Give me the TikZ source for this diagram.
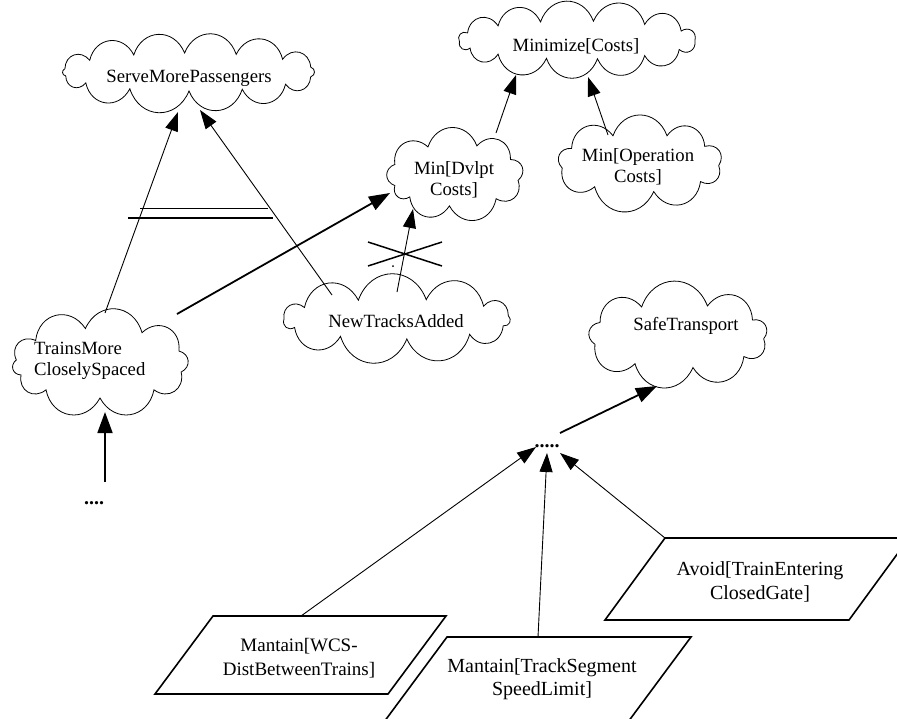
\documentclass[tikz,border=0pt]{standalone}
\usepackage{fontspec}
\setmainfont{Liberation Serif}
\usetikzlibrary{arrows.meta,calc}
\newcommand\drawcloud[6]{%
  \draw[cloudline] ($(#1)+({#2*cos(#4)},{#3*sin(#4)+#6})$)
    \foreach \a in {#5} { to[out=70,in=110,relative,looseness=1.4] ($(#1)+({#2*cos(\a)},{#3*sin(\a)+#6})$) } -- cycle;}
\begin{document}
\begin{tikzpicture}[x=1pt,y=-1pt,
  cloudline/.style={line width=0.8pt,line join=miter},
  anchorbox/.style={inner sep=0pt},
  lbl/.style={font=\fontsize{18.7pt}{21pt}\selectfont,align=center,inner sep=0pt},
  plbl/.style={font=\fontsize{20pt}{23.5pt}\selectfont,align=center,inner sep=0pt},
  dotlbl/.style={font=\fontsize{20pt}{22pt}\selectfont\bfseries,inner sep=0pt},
  para/.style={draw,line width=1.6pt,line join=miter},
  thinarr/.style={line width=0.9pt,-{Triangle[length=19pt,width=13pt]}},
  thickarr/.style={line width=1.8pt,-{Triangle[length=21pt,width=15pt]}},
]
\useasboundingbox (0,0) rectangle (897,718);
\clip (0,0) rectangle (897,718);

% cloud centres
\node[anchorbox] (sm) at (189,77) {};
\node[anchorbox] (mc) at (577,45) {};
\node[anchorbox] (dv) at (455,175) {};
\node[anchorbox] (op) at (640,163) {};
\node[anchorbox] (tm) at (100,363) {};
\node[anchorbox] (nt) at (397,318) {};
\node[anchorbox] (st) at (678,336) {};

% clouds
\drawcloud{sm}{126}{19}{190}{218,244,268,292,318,345,375,400,425,450,478,505,528,550}{-5}
\drawcloud{mc}{118}{19}{175}{202,228,252,278,305,332,362,390,415,440,465,492,515,535}{-5}
\drawcloud{dv}{64}{31}{160}{200,245,290,330,370,410,455,495,520}{0}
\drawcloud{op}{79}{29}{170}{210,250,290,325,365,400,440,485,530}{0}
\drawcloud{tm}{84}{35}{185}{220,260,300,340,375,410,450,490,520,545}{0}
\drawcloud{nt}{113}{20}{180}{215,250,285,320,350,380,410,445,480,515,540}{1}
\drawcloud{st}{86}{32}{165}{205,245,290,330,365,400,440,480,525}{0}

\node[lbl] (smt) at (189,78) {ServeMorePassengers};
\node[lbl] (mct) at (576,46) {Minimize[Costs]};
\node[lbl] (dvt) at (454,180) {Min[Dvlpt\\Costs]};
\node[lbl] (opt) at (638,167) {Min[Operation\\Costs]};
\node[lbl,anchor=west,align=left] (tmt) at (34,361) {TrainsMore\\CloselySpaced};
\node[lbl] (ntt) at (396,321) {NewTracksAdded};
\node[lbl] (stt) at (686,326) {SafeTransport};

% parallelograms
\draw[para] (213,616) -- (446,616) -- (388,694) -- (155,694) -- cycle;
\draw[para] (447,637) -- (691,637) -- (628,722) -- (384,722) -- cycle;
\draw[para] (665,538) -- (909,538) -- (849,620) -- (605,620) -- cycle;
\node[plbl,font=\fontsize{19pt}{24pt}\selectfont] (pa) at (299,658) {Mantain[WCS-\\DistBetweenTrains]};
\node[plbl] (pb) at (542,679) {Mantain[TrackSegment\\SpeedLimit]};
\node[plbl] (pc) at (760,582) {Avoid[TrainEntering\\ClosedGate]};

% dots
\node[dotlbl] (d1) at (547,446) {.....};
\node[dotlbl] (d2) at (94,503) {....};

% connectors
\draw[thinarr] ($(tm)+(5,-50)$) -- ($(sm)+(-11,35)$);
\draw[thinarr] ($(nt)+(-65,-23)$) -- ($(sm)+(11,33)$);
\draw[thickarr] ($(tm)+(77,-49)$) -- ($(dv)+(-65,18)$);
\draw[thinarr] ($(nt)+(0,-26)$) -- ($(dv)+(-42,34)$);
\draw[thinarr] ($(dv)+(41,-42)$) -- ($(mc)+(-61,30)$);
\draw[thinarr] ($(op)+(-32,-28)$) -- ($(mc)+(11,32)$);
\draw[thickarr] ($(d2)+(11,-21)$) -- ($(tm)+(5,49)$);
\draw[thickarr] ($(d1)+(13,-13)$) -- ($(st)+(-21,50)$);
\draw[thinarr] ($(pa)+(2,-42)$) -- ($(d1)+(-11,1)$);
\draw[thinarr] ($(pb)+(-4,-42)$) -- ($(d1)+(0,7)$);
\draw[thinarr] ($(pc)+(-95,-44)$) -- ($(d1)+(13,7)$);

% conflict marker and cross
\draw[line width=0.9pt] (140,208) -- (268,208);
\draw[line width=1.6pt] (128,218) -- (273,218);
\draw[line width=1.5pt] (368,242) -- (442,266) (368,266) -- (442,242);
\fill (393,266) circle (1pt);
\end{tikzpicture}
\end{document}
